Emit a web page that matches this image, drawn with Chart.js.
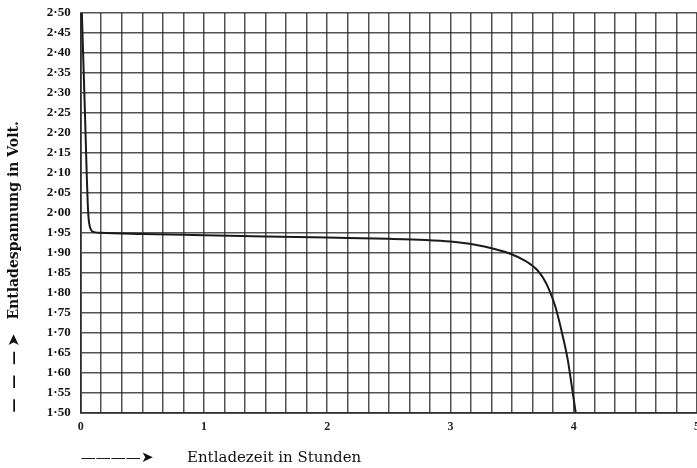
<!DOCTYPE html>
<html>
<head>
<meta charset="utf-8">
<script src="https://cdn.jsdelivr.net/npm/chart.js@4"></script>
<style>
  html, body { margin: 0; padding: 0; background: #fff; }
  #wrap { width: 697px; height: 468px; }
</style>
</head>
<body>
<div id="wrap"><canvas id="entladung"></canvas></div>
<script>
// Entladekurve: Zeit in Stunden, Spannung in Volt
const stunden = [0.01, 0.02, 0.035, 0.05, 0.058, 0.065, 0.075, 0.09, 0.12, 0.16,
                 0.5, 1.0, 1.5, 2.0, 2.5, 2.8, 3.0, 3.2, 3.35, 3.49, 3.6, 3.65, 3.7,
                 3.75, 3.8, 3.85, 3.9, 3.95, 3.98, 4.016];
const volt = [2.50, 2.40, 2.25, 2.09, 2.02, 1.985, 1.965, 1.955, 1.951, 1.950,
              1.947, 1.944, 1.941, 1.938, 1.935, 1.932, 1.928, 1.920, 1.910, 1.897, 1.881, 1.871, 1.858,
              1.838, 1.808, 1.766, 1.706, 1.635, 1.575, 1.500];

// Beschriftungen der Achsen
const yTickLabels = ['1·50', '1·55', '1·60', '1·65', '1·70', '1·75', '1·80', '1·85', '1·90', '1·95',
                     '2·00', '2·05', '2·10', '2·15', '2·20', '2·25', '2·30', '2·35', '2·40', '2·45', '2·50'];
const xTickLabels = ['0', '1', '2', '3', '4', '5'];

const gitterFarbe = 'rgba(35,35,35,0.78)';
const serif = '"Liberation Serif", "DejaVu Serif", serif';

const punkte = stunden.map((t, i) => ({ x: t, y: volt[i] }));

new Chart(document.getElementById('entladung'), {
    type: 'line',
    data: {
        datasets: [{
            data: punkte,
            borderColor: '#1a1a1a',
            borderWidth: 2,
            pointRadius: 0,
            fill: false,
            cubicInterpolationMode: 'monotone'
        }]
    },
    options: {
        responsive: true,
        maintainAspectRatio: false,
        animation: false,
        layout: { padding: { top: 13, left: 6, right: 0, bottom: 1 } },
        plugins: { legend: { display: false }, tooltip: { enabled: false } },
        scales: {
            x: {
                type: 'linear',
                min: 0,
                max: 5,
                ticks: {
                    stepSize: 1 / 6,
                    autoSkip: false,
                    maxRotation: 0,
                    padding: 7,
                    color: '#222',
                    font: { family: serif, size: 12, weight: 'bold' },
                    callback: function (v) {
                        const n = Math.round(v);
                        return Math.abs(v - n) < 1e-6 ? xTickLabels[n] : '';
                    }
                },
                grid: { color: gitterFarbe, lineWidth: 1.5, drawTicks: false },
                border: { color: gitterFarbe, width: 1.8 },
                title: {
                    display: true,
                    align: 'start',
                    text: '————➤       Entladezeit in Stunden',
                    color: '#111',
                    font: { family: '"DejaVu Serif", serif', size: 15 },
                    padding: { top: 8, bottom: 0 }
                },
                afterFit: function (scale) { scale.paddingRight = 0; }
            },
            y: {
                min: 1.5,
                max: 2.5,
                ticks: {
                    stepSize: 0.05,
                    autoSkip: false,
                    padding: 10,
                    color: '#111',
                    font: { family: serif, size: 13, weight: 'bold' },
                    callback: function (v, i) { return yTickLabels[i]; }
                },
                grid: { color: gitterFarbe, lineWidth: 1.5, drawTicks: false },
                border: { color: gitterFarbe, width: 1.8 },
                title: {
                    display: true,
                    align: 'start',
                    text: '—  —  — ➤   Entladespannung in Volt.',
                    color: '#111',
                    font: { family: '"DejaVu Serif", serif', size: 14, weight: 'bold' },
                    padding: { top: 0, bottom: 14 }
                },
                afterFit: function (scale) { scale.paddingTop = 0; }
            }
        }
    }
});
</script>
</body>
</html>
